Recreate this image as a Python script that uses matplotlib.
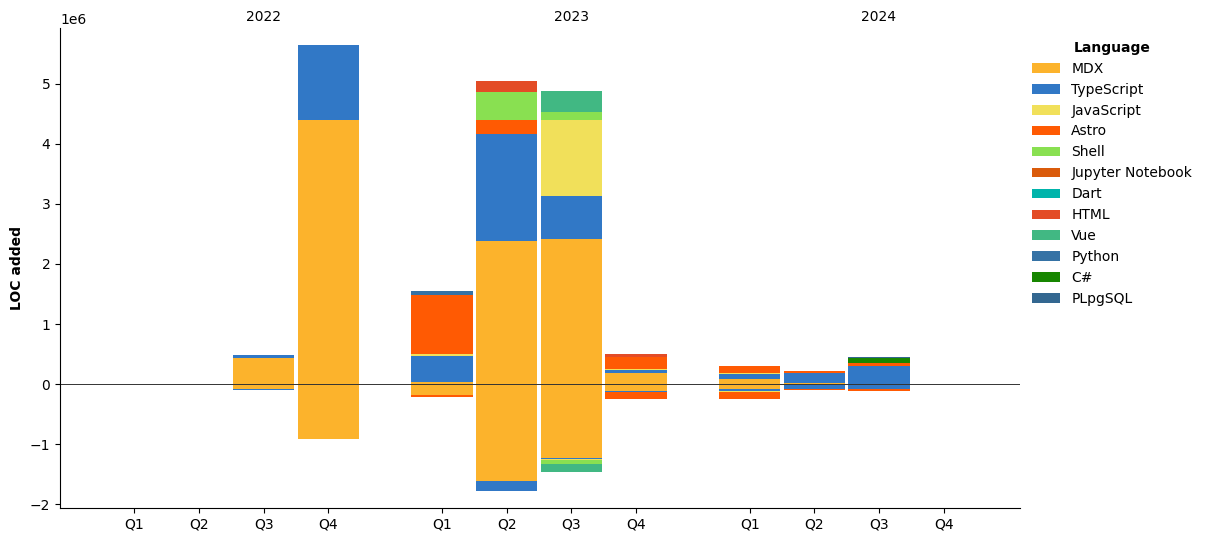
import matplotlib
matplotlib.use('Agg')
import matplotlib.pyplot as plt
import numpy as np

years = ['2022', '2023', '2024']
quarters = ['Q1', 'Q2', 'Q3', 'Q4']

languages = ['MDX', 'TypeScript', 'JavaScript', 'Astro', 'Shell', 'Jupyter Notebook',
             'Dart', 'HTML', 'Vue', 'Python', 'C#', 'PLpgSQL']
colors = ['#fcb32c', '#3178c6', '#f1e05a', '#ff5a03', '#89e051', '#da5b0b',
          '#00b4ab', '#e34c26', '#41b883', '#3572a5', '#178600', '#336790']

# LOC added per quarter (2022 Q1 .. 2024 Q4)
added_mdx = [0, 0, 430000, 4390000, 40000, 2380000, 2410000, 190000, 90000, 20000, 0, 0]
added_ts = [0, 0, 50000, 1250000, 430000, 1780000, 715000, 50000, 83000, 166000, 300000, 0]
added_js = [0, 0, 0, 0, 33000, 0, 1265000, 17000, 12000, 0, 0, 0]
added_astro = [0, 0, 0, 0, 980000, 233000, 0, 200000, 120000, 33000, 45000, 0]
added_shell = [0, 0, 0, 0, 0, 466000, 133000, 0, 0, 0, 0, 0]
added_jupyter = [0, 0, 0, 0, 0, 3000, 0, 0, 0, 0, 0, 0]
added_dart = [0, 0, 0, 0, 0, 0, 2000, 0, 0, 0, 0, 0]
added_html = [0, 0, 0, 0, 0, 183000, 0, 50000, 0, 0, 0, 0]
added_vue = [0, 0, 0, 0, 0, 0, 350000, 0, 0, 0, 0, 0]
added_python = [0, 0, 0, 0, 67000, 0, 0, 0, 0, 0, 0, 0]
added_csharp = [0, 0, 0, 0, 0, 0, 0, 0, 0, 0, 95000, 0]
added_plpgsql = [0, 0, 0, 0, 0, 0, 0, 0, 0, 0, 8000, 0]

# LOC removed per quarter
removed_mdx = [0, 0, -80000, -910000, -180000, -1610000, -1220000, -110000, -78000, -8000, 0, 0]
removed_ts = [0, 0, -15000, 0, 0, -166000, -22000, -17000, -28000, -70000, -83000, 0]
removed_js = [0, 0, 0, 0, 0, 0, -12000, 0, -17000, 0, 0, 0]
removed_astro = [0, 0, 0, 0, -33000, 0, 0, -116000, -116000, -17000, -28000, 0]
removed_shell = [0, 0, 0, 0, 0, 0, -72000, 0, 0, 0, 0, 0]
removed_vue = [0, 0, 0, 0, 0, 0, -133000, 0, 0, 0, 0, 0]
zeros = [0] * 12

added = [added_mdx, added_ts, added_js, added_astro, added_shell, added_jupyter,
         added_dart, added_html, added_vue, added_python, added_csharp, added_plpgsql]
removed = [removed_mdx, removed_ts, removed_js, removed_astro, removed_shell, zeros,
           zeros, zeros, removed_vue, zeros, zeros, zeros]

year_gap = 4.76
x = np.array([y * year_gap + q for y in range(len(years)) for q in range(len(quarters))])

fig = plt.figure(figsize=(12.07, 5.42), dpi=100)
ax = fig.add_axes([0.0497, 0.0627, 0.7953, 0.8853])

width = 0.95
bottom_pos = np.zeros(12)
bottom_neg = np.zeros(12)
for lang, col, pos, neg in zip(languages, colors, added, removed):
    pos = np.array(pos, dtype=float)
    neg = np.array(neg, dtype=float)
    ax.bar(x, pos, width, bottom=bottom_pos, color=col, label=lang, linewidth=0)
    ax.bar(x, neg, width, bottom=bottom_neg, color=col, linewidth=0)
    bottom_pos += pos
    bottom_neg += neg

ax.axhline(0, color='#333333', linewidth=0.7)

ax.set_xticks(x)
ax.set_xticklabels(quarters * len(years))
ax.set_xlim(-1.15, 13.7)
ax.set_ylim(-2.06e6, 5.92e6)
ax.set_ylabel('LOC added', fontweight='bold')

ax.spines['top'].set_visible(False)
ax.spines['right'].set_visible(False)

top = ax.secondary_xaxis('top')
top.set_xticks([y * year_gap + 2 for y in range(len(years))])
top.set_xticklabels(years)
top.tick_params(length=0, pad=2.8)
top.spines['top'].set_visible(False)

leg = ax.legend(loc='upper left', bbox_to_anchor=(1.0, 1.0), frameon=False,
                title='Language')
leg.get_title().set_fontweight('bold')

plt.savefig('out.png')
plt.close()
